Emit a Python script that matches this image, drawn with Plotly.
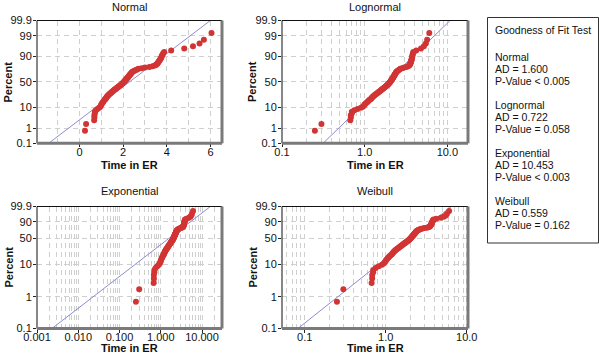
import numpy as np
import plotly.graph_objects as go
from statistics import NormalDist

W, H = 599, 358

# ---- data ----
time_in_er = [0.25, 0.30, 0.67, 0.68, 0.68, 0.70, 0.70, 0.75, 0.82, 0.90,
              0.95, 0.98, 1.00, 1.02, 1.05, 1.08, 1.10, 1.13, 1.16, 1.19,
              1.21, 1.23, 1.25, 1.28, 1.30, 1.33, 1.36, 1.39, 1.42, 1.45,
              1.48, 1.51, 1.54, 1.57, 1.60, 1.63, 1.66, 1.69, 1.72, 1.75,
              1.78, 1.81, 1.84, 1.87, 1.90, 1.93, 1.95, 1.97, 2.00, 2.02,
              2.04, 2.06, 2.08, 2.10, 2.12, 2.14, 2.16, 2.18, 2.20, 2.22,
              2.24, 2.26, 2.28, 2.30, 2.32, 2.34, 2.36, 2.38, 2.40, 2.43,
              2.47, 2.52, 2.58, 2.64, 2.70, 2.85, 3.00, 3.20, 3.35, 3.45,
              3.50, 3.54, 3.57, 3.60, 3.62, 3.65, 3.68, 3.70, 3.73, 3.75,
              3.77, 3.80, 3.83, 3.88, 4.20, 4.80, 5.20, 5.50, 5.70, 6.05]

normal_mu, normal_sigma = 2.29, 1.20
lognormal_loc, lognormal_scale = 0.611, 0.573
exponential_scale = 2.30
weibull_shape, weibull_scale = 2.03, 2.48

dist_names = ["Normal", "Lognormal", "Exponential", "Weibull"]
ad_values = ["1.600", "0.722", "10.453", "0.559"]
p_values = ["< 0.005", "= 0.058", "< 0.003", "= 0.162"]

pct_ticks_norm = [0.1, 1, 10, 50, 90, 99, 99.9]
pct_ticks_exp = [0.1, 1, 10, 50, 90, 99.9]
x_ticks_lognormal = [0.1, 1, 10]
x_labels_lognormal = ["0.1", "1.0", "10.0"]
x_ticks_exponential = [0.001, 0.01, 0.1, 1, 10]
x_labels_exponential = ["0.001", "0.010", "0.100", "1.000", "10.000"]
x_ticks_weibull = [0.1, 1, 10]
x_labels_weibull = ["0.1", "1.0", "10.0"]

# ---- transforms ----
nd = NormalDist()
x = np.array(sorted(time_in_er))
n = len(x)
p = (np.arange(1, n + 1) - 0.3) / (n + 0.4)


def zq(pr):
    return np.array([nd.inv_cdf(v) for v in np.atleast_1d(pr)])


def sev(pr):
    pr = np.atleast_1d(np.asarray(pr, dtype=float))
    return np.log10(-np.log(1 - pr))


PLO, PHI = 0.001, 0.999
pl = np.linspace(PLO, PHI, 400)

font = "Liberation Sans, Arial, sans-serif"
RED = "#d23434"
LINEC = "#8c8cd2"
GRIDC = "#cfcfcf"
DASH = "5px,4px"


def px2x(v):
    return v / W


def px2y(v):
    return 1 - v / H


fig = go.Figure()

marker = dict(color=RED, size=6, line=dict(width=0))
lstyle = dict(color=LINEC, width=1)

# Normal
fig.add_trace(go.Scatter(x=normal_mu + normal_sigma * zq(pl), y=zq(pl), mode="lines",
                         line=lstyle, xaxis="x", yaxis="y", showlegend=False))
fig.add_trace(go.Scatter(x=x, y=zq(p), mode="markers", marker=marker,
                         xaxis="x", yaxis="y", showlegend=False))
# Lognormal
fig.add_trace(go.Scatter(x=np.exp(lognormal_loc + lognormal_scale * zq(pl)), y=zq(pl), mode="lines",
                         line=lstyle, xaxis="x2", yaxis="y2", showlegend=False))
fig.add_trace(go.Scatter(x=x, y=zq(p), mode="markers", marker=marker,
                         xaxis="x2", yaxis="y2", showlegend=False))
# Exponential
fig.add_trace(go.Scatter(x=exponential_scale * (-np.log(1 - pl)), y=sev(pl), mode="lines",
                         line=lstyle, xaxis="x3", yaxis="y3", showlegend=False))
fig.add_trace(go.Scatter(x=x, y=sev(p), mode="markers", marker=marker,
                         xaxis="x3", yaxis="y3", showlegend=False))
# Weibull
fig.add_trace(go.Scatter(x=weibull_scale * (-np.log(1 - pl)) ** (1 / weibull_shape), y=sev(pl),
                         mode="lines", line=lstyle, xaxis="x4", yaxis="y4", showlegend=False))
fig.add_trace(go.Scatter(x=x, y=sev(p), mode="markers", marker=marker,
                         xaxis="x4", yaxis="y4", showlegend=False))

left_dom = [px2x(37), px2x(222)]
right_dom = [px2x(282), px2x(468)]
top_dom = [px2y(143.3), px2y(20.5)]
bot_dom = [px2y(328.5), px2y(206.5)]

tickfont = dict(family=font, size=11, color="#111")
common = dict(showline=False, zeroline=False, ticks="outside", ticklen=3, tickcolor="#222",
              tickfont=tickfont, showgrid=True, gridcolor=GRIDC, griddash=DASH, gridwidth=1,
              automargin=False)
xcommon = dict(common, ticklabelstandoff=-5)
ycommon = dict(common, ticklabelstandoff=-1)


def log_minor(lo_exp, hi_exp):
    vals = []
    for e in range(lo_exp, hi_exp + 1):
        for m in range(2, 10):
            vals.append(m * 10.0 ** e)
    return vals


def minor_log(a, b):
    return dict(tickvals=log_minor(a, b), showgrid=True, gridcolor=GRIDC, griddash=DASH, ticks="")


layout = dict(
    template="none",
    width=W, height=H, autosize=False,
    margin=dict(l=0, r=0, t=0, b=0, pad=0, autoexpand=False),
    paper_bgcolor="white", plot_bgcolor="white",
    font=dict(family=font, color="#111"),
    showlegend=False,
    hovermode=False,
    xaxis=dict(domain=left_dom, anchor="y", range=[-1.95, 6.53], tickvals=[0, 2, 4, 6],
               minor=dict(dtick=1, tick0=0, showgrid=True, gridcolor=GRIDC, griddash=DASH, ticks=""),
               **xcommon),
    yaxis=dict(domain=top_dom, anchor="x", range=[zq(PLO)[0], zq(PHI)[0]],
               tickvals=zq(np.array(pct_ticks_norm) / 100), ticktext=[f"{t:g}" for t in pct_ticks_norm],
               **ycommon),
    xaxis2=dict(domain=right_dom, anchor="y2", type="log", range=[-1, 1.25],
                tickvals=x_ticks_lognormal, ticktext=x_labels_lognormal,
                minor=minor_log(-1, 1), **xcommon),
    yaxis2=dict(domain=top_dom, anchor="x2", range=[zq(PLO)[0], zq(PHI)[0]],
                tickvals=zq(np.array(pct_ticks_norm) / 100), ticktext=[f"{t:g}" for t in pct_ticks_norm],
                **ycommon),
    xaxis3=dict(domain=left_dom, anchor="y3", type="log", range=[-3, 1.484],
                tickvals=x_ticks_exponential, ticktext=x_labels_exponential,
                minor=minor_log(-3, 1), **xcommon),
    yaxis3=dict(domain=bot_dom, anchor="x3", range=[sev(PLO)[0], sev(PHI)[0]],
                tickvals=sev(np.array(pct_ticks_exp) / 100), ticktext=[f"{t:g}" for t in pct_ticks_exp],
                **ycommon),
    xaxis4=dict(domain=right_dom, anchor="y4", type="log", range=[-1.28, 1.015],
                tickvals=x_ticks_weibull, ticktext=x_labels_weibull,
                minor=minor_log(-2, 1), **xcommon),
    yaxis4=dict(domain=bot_dom, anchor="x4", range=[sev(PLO)[0], sev(PHI)[0]],
                tickvals=sev(np.array(pct_ticks_exp) / 100), ticktext=[f"{t:g}" for t in pct_ticks_exp],
                **ycommon),
)
fig.update_layout(**layout)

shapes = []
for xa, ya in [("x", "y"), ("x2", "y2"), ("x3", "y3"), ("x4", "y4")]:
    xr, yr = f"{xa} domain", f"{ya} domain"
    shapes.append(dict(type="line", xref=xr, yref=yr, x0=0, x1=1, y0=1, y1=1,
                       line=dict(color="#111", width=1), layer="above"))
    shapes.append(dict(type="line", xref=xr, yref=yr, x0=0, x1=0, y0=0, y1=1,
                       line=dict(color="#111", width=1), layer="above"))
    shapes.append(dict(type="line", xref=xr, yref=yr, x0=0, x1=1, y0=0, y1=0,
                       line=dict(color="#7a7a7a", width=3), layer="above"))
    shapes.append(dict(type="line", xref=xr, yref=yr, x0=1, x1=1, y0=0, y1=1,
                       line=dict(color="#7a7a7a", width=3), layer="above"))
# goodness-of-fit box
shapes.append(dict(type="rect", xref="paper", yref="paper", x0=px2x(487.5), x1=px2x(598.5),
                   y0=px2y(243), y1=px2y(17.5), line=dict(color="#333", width=1),
                   fillcolor="rgba(0,0,0,0)", layer="above"))

ann = []
title_pos = [(129.5, 7), (375, 7), (129.5, 191), (375, 191)]
for name, (cx, cy) in zip(dist_names, title_pos):
    ann.append(dict(text=name, x=px2x(cx), y=px2y(cy), xref="paper", yref="paper",
                    showarrow=False, xanchor="center", yanchor="middle",
                    font=dict(family=font, size=11, color="#111")))
for cx, cy in [(129.5, 164.5), (375, 164.5), (129.5, 347.5), (375, 347.5)]:
    ann.append(dict(text="<b>Time in ER</b>", x=px2x(cx), y=px2y(cy), xref="paper", yref="paper",
                    showarrow=False, xanchor="center", yanchor="middle",
                    font=dict(family=font, size=11, color="#111")))
for cx, cy in [(7.5, 82), (252, 82), (8, 267.5), (252, 267.5)]:
    ann.append(dict(text="<b>Percent</b>", x=px2x(cx), y=px2y(cy), xref="paper", yref="paper",
                    showarrow=False, xanchor="center", yanchor="middle", textangle=-90,
                    font=dict(family=font, size=11, color="#111")))

legend_font = dict(family=font, size=10.5, color="#111")
ann.append(dict(text="Goodness of Fit Test", x=px2x(493), y=px2y(30), xref="paper", yref="paper",
                showarrow=False, xanchor="left", yanchor="middle", font=legend_font))
for k, (nm, ad, pv) in enumerate(zip(dist_names, ad_values, p_values)):
    base = 57 + 48 * k
    for j, line in enumerate([nm, f"AD = {ad}", f"P-Value {pv}"]):
        ann.append(dict(text=line, x=px2x(493), y=px2y(base + 12 * j), xref="paper", yref="paper",
                        showarrow=False, xanchor="left", yanchor="middle", font=legend_font))

fig.update_layout(shapes=shapes, annotations=ann)
fig.write_html("out.html", config={"displayModeBar": False, "staticPlot": True},
               post_script="document.body.style.margin='0px';")
